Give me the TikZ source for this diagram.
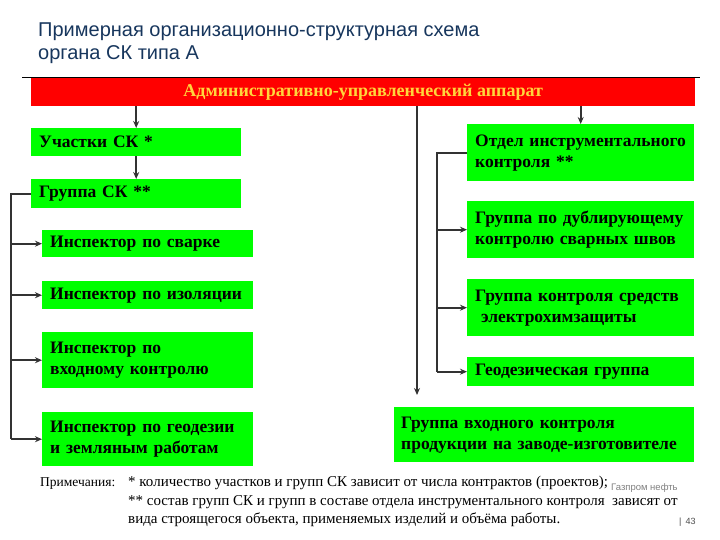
\documentclass[tikz,border=0pt]{standalone}
\usepackage{fontspec}
\setmainfont{Liberation Serif}
\newfontfamily\titlefont{Liberation Sans}
\usetikzlibrary{arrows.meta,calc}
\definecolor{titleblue}{RGB}{23,54,93}
\definecolor{barred}{RGB}{255,0,0}
\definecolor{baryellow}{RGB}{255,214,60}
\definecolor{boxgreen}{RGB}{0,255,0}
\definecolor{linegray}{RGB}{51,51,51}
\tikzset{
  box/.style={fill=boxgreen, draw=none, anchor=north west, inner xsep=8pt, inner ysep=0pt,
    align=left, font=\fontsize{17.5}{21}\selectfont\bfseries, text=black},
  conn/.style={draw=linegray, line width=2pt},
  arr/.style={draw=linegray, line width=2pt, -{Stealth[length=7pt,width=6pt]}},
  note/.style={anchor=base west, inner sep=0pt, font=\fontsize{15}{18}\selectfont},
  ttl/.style={anchor=base west, inner sep=0pt, text=titleblue, font=\titlefont\fontsize{20}{23}\selectfont},
}
\begin{document}
\begin{tikzpicture}[x=1pt,y=-1pt]
\useasboundingbox (0,0) rectangle (720,540);
% title
\node[ttl] (title1) at (38,37) {Примерная организационно-структурная схема};
\node[ttl] (title2) at (38,60) {органа СК типа А};
% top rule and red bar
\draw[black, line width=0.8pt] (22,77.5) coordinate (rl) -- (700,77.5) coordinate (rr);
\node[fill=barred, minimum width=664pt, minimum height=28pt, anchor=north west, inner sep=0pt,
  text=baryellow, font=\fontsize{18}{20}\selectfont\bfseries] (adm) at (31,78) {Административно-управленческий аппарат};
% left column
\node[box, text width=194pt, minimum height=28pt] (uch) at (31,128) {Участки СК *};
\node[box, text width=194pt, minimum height=29pt] (grp) at (31,179) {Группа СК **};
\node[box, text width=195pt, minimum height=27pt] (svr) at (42,230) {Инспектор по сварке};
\node[box, text width=195pt, minimum height=28pt] (izo) at (42,281) {Инспектор по изоляции};
\node[box, text width=195pt, minimum height=56pt] (vhod) at (42,332) {Инспектор по\\входному контролю};
\node[box, text width=195pt, minimum height=54pt] (geo) at (42,412) {Инспектор по геодезии\\и земляным работам};
% right column
\node[box, text width=211pt, minimum height=57pt] (otd) at (467,124) {Отдел инструментального\\контроля **};
\node[box, text width=211pt, minimum height=57pt] (dub) at (467,201) {Группа по дублирующему\\контролю сварных швов};
\node[box, text width=211pt, minimum height=57pt] (ehz) at (467,279) {Группа контроля средств\\\ электрохимзащиты};
\node[box, text width=211pt, minimum height=29pt] (geog) at (467,357) {Геодезическая группа};
\node[box, inner xsep=7pt, text width=286pt, minimum height=55pt] (vgk) at (394,407) {Группа входного контроля\\продукции на заводе-изготовителе};
% connectors from the bar
\draw[arr] (adm.south -| uch.north) -- (uch.north);
\draw[arr] (uch.south) -- (grp.north);
\draw[arr] (adm.south -| otd.north) -- (otd.north);
\coordinate (bigx) at (417,0);
\draw[arr, shorten >=12pt] (adm.south -| bigx) -- (bigx |- vgk.north);
% left bracket
\draw[conn] (grp.west) -- ++(-20,0) coordinate (lb) -- (lb |- geo.west);
\draw[arr] (lb |- svr.west) -- (svr.west);
\draw[arr] (lb |- izo.west) -- (izo.west);
\draw[arr] (lb |- vhod.west) -- (vhod.west);
\draw[arr] (lb |- geo.west) -- (geo.west);
% right bracket
\draw[conn] (otd.west) -- ++(-30,0) coordinate (rb) -- (rb |- geog.west);
\draw[arr] (rb |- dub.west) -- (dub.west);
\draw[arr] (rb |- ehz.west) -- (ehz.west);
\draw[arr] (rb |- geog.west) -- (geog.west);
% notes
\node[note, font=\fontsize{13.5}{18}\selectfont] (nlab) at (40,486) {Примечания:};
\node[note] (n1) at (128,486) {* количество участков и групп СК зависит от числа контрактов (проектов);};
\node[note] (n2) at (128,505) {** состав групп СК и групп в составе отдела инструментального контроля \ зависят от};
\node[note] (n3) at (128,523) {вида строящегося объекта, применяемых изделий и объёма работы.};
\node[anchor=base west, inner sep=0pt, text=gray, font=\titlefont\fontsize{9.5}{11}\selectfont] (gaz) at (611,490) {Газпром нефть};
\node[anchor=base west, inner sep=0pt, text=black!70, font=\titlefont\fontsize{9}{10}\selectfont] (pg) at (679,524) {|\, 43};
\end{tikzpicture}
\end{document}
